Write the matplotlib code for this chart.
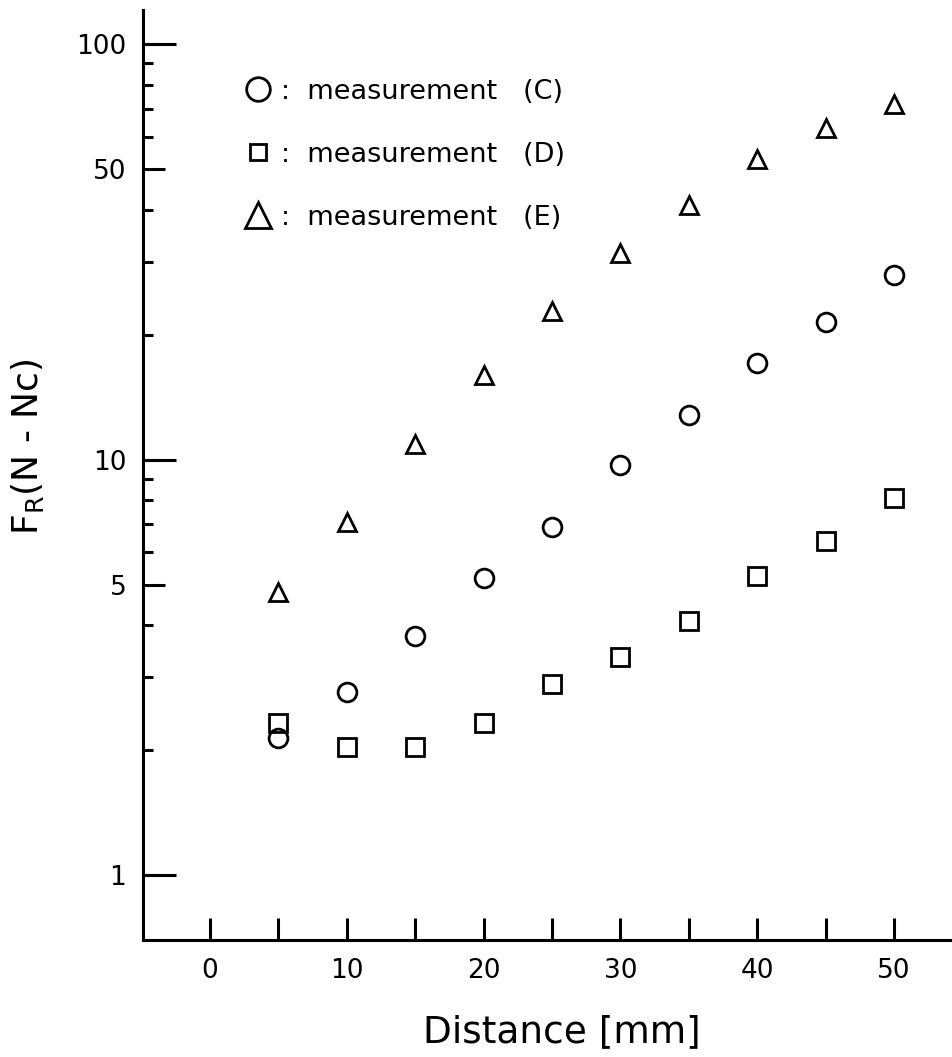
"""F_R(N - Nc) against distance for three measurement sets, log y axis."""

import numpy as np
import matplotlib
matplotlib.use("Agg")
import matplotlib.pyplot as plt
from matplotlib.lines import Line2D
from matplotlib.ticker import FixedLocator, FixedFormatter, NullFormatter

# distance along the sample [mm]
distance = [5, 10, 15, 20, 25, 30, 35, 40, 45, 50]

# measured F_R(N - Nc)
meas_c = [2.14, 2.76, 3.76, 5.19, 6.88, 9.70, 12.8, 17.1, 21.5, 27.8]
meas_d = [2.33, 2.03, 2.03, 2.33, 2.88, 3.35, 4.09, 5.24, 6.37, 8.08]
meas_e = [4.80, 7.07, 10.9, 16.0, 22.8, 31.4, 41.0, 52.9, 62.8, 71.7]

labels = [":  measurement   (C)", ":  measurement   (D)", ":  measurement   (E)"]

y_labeled = [1, 5, 10, 50, 100]
y_decades = [1, 10, 100]
y_minor = [2, 3, 4, 6, 7, 8, 9, 20, 30, 40, 60, 70, 80, 90]

plt.rcParams["font.family"] = "DejaVu Sans"
LW = 2.2

fig = plt.figure(figsize=(9.53, 10.57), dpi=100)
ax = fig.add_axes([0.150, 0.1107, 0.850, 0.8798])

style = dict(linestyle="none", mfc="none", mec="black", mew=2.0, ms=13.5)
ax.plot(distance, meas_c, marker="o", **style)
ax.plot(distance, meas_d, marker="s", **dict(style, ms=13))
ax.plot(distance, meas_e, marker="^", **style)

ax.set_yscale("log")
ax.set_xlim(-4.9, 54.3)
ax.set_ylim(0.698, 121)

for side in ("top", "right"):
    ax.spines[side].set_visible(False)
for side in ("left", "bottom"):
    ax.spines[side].set_linewidth(LW)

# y ticks: labelled ones, then short minor ones
ax.yaxis.set_major_locator(FixedLocator(y_labeled))
ax.yaxis.set_major_formatter(FixedFormatter([str(v) for v in y_labeled]))
ax.yaxis.set_minor_locator(FixedLocator(y_minor))
ax.yaxis.set_minor_formatter(NullFormatter())
ax.tick_params(axis="y", which="major", direction="in", length=16, width=LW,
               labelsize=19, pad=12)
ax.tick_params(axis="y", which="minor", direction="in", length=7.5, width=LW)

# x ticks every 5 mm, labels every 10 mm
ax.xaxis.set_major_locator(FixedLocator(np.arange(0, 51, 10)))
ax.xaxis.set_minor_locator(FixedLocator(np.arange(5, 50, 10)))
ax.tick_params(axis="x", which="both", direction="in", length=16, width=LW,
               labelsize=19, pad=13)

# longer ticks on each decade
tw = ax.twinx()
tw.set_yscale("log")
tw.set_ylim(ax.get_ylim())
for s in tw.spines.values():
    s.set_visible(False)
tw.yaxis.set_ticks_position("left")
tw.yaxis.set_major_locator(FixedLocator(y_decades))
tw.yaxis.set_minor_locator(FixedLocator([]))
tw.yaxis.set_major_formatter(NullFormatter())
tw.tick_params(axis="y", which="major", direction="in", length=24, width=LW,
               left=True, right=False, labelleft=False, labelright=False)

ax.set_xlabel("Distance [mm]", fontsize=27, va="center")
ax.xaxis.set_label_coords(0.517, -0.099)
ax.set_ylabel(r"F$_\mathregular{R}$(N - Nc)", fontsize=26, va="center")
ax.yaxis.set_label_coords(-0.143, 0.53)

# legend symbols are drawn a bit larger than the data points
key = dict(linestyle="none", mfc="none", mec="black", mew=2.0)
handles = [Line2D([], [], marker="o", ms=17, **key),
           Line2D([], [], marker="s", ms=12, **key),
           Line2D([], [], marker="^", ms=19, **key)]
ax.legend(handles, labels, loc="upper left", bbox_to_anchor=(0.1253, 0.926),
          frameon=False, fontsize=19.5, handlelength=1.0, handletextpad=0.35,
          labelspacing=1.36, borderpad=0, borderaxespad=0, numpoints=1)

fig.savefig("out.png", dpi=100)
